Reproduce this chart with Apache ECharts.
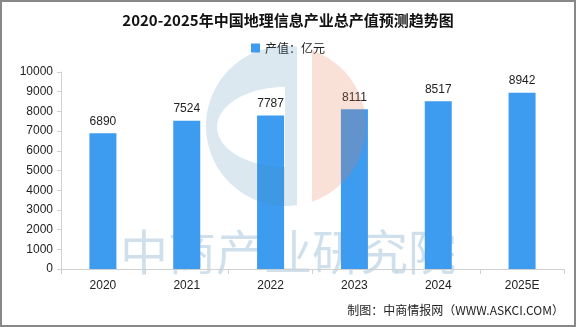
<!DOCTYPE html>
<html>
<head>
<meta charset="utf-8">
<script src="https://cdn.jsdelivr.net/npm/echarts@6/dist/echarts.min.js"></script>
<style>
html,body{margin:0;padding:0;background:#fff;}
#main{width:576px;height:327px;}
</style>
</head>
<body>
<div id="main"></div>
<script>
var titleText = '2020-2025年中国地理信息产业总产值预测趋势图';
var seriesName = '产值：亿元';
var categories = ['2020', '2021', '2022', '2023', '2024', '2025E'];
var values = [6890, 7524, 7787, 8111, 8517, 8942];
var sourceText = '制图：中商情报网（WWW.ASKCI.COM）';
var watermarkText = '中商产业研究院';

// decorative logo geometry (watermark)
var cx = 286, cy = 126, R = 80;
function circleArc(x0, fromDeg, toDeg, steps) {
  var pts = [];
  for (var i = 0; i <= steps; i++) {
    var a = (fromDeg + (toDeg - fromDeg) * i / steps) * Math.PI / 180;
    pts.push([cx + R * Math.cos(a), cy + R * Math.sin(a)]);
  }
  return pts;
}
function angAtX(x, top) {
  var dy = Math.sqrt(R * R - (x - cx) * (x - cx));
  return Math.atan2(top ? -dy : dy, x - cx) * 180 / Math.PI;
}
var ex = 285, ey = 127, erx = 68, ery = 40;
var cPts = [];
var aTop = angAtX(ex, true), aBot = angAtX(ex, false);
var aTopPos = aTop + 360;
cPts = cPts.concat(circleArc(ex, aTopPos, aBot, 60));
cPts.push([ex, ey + ery]);
for (var i = 0; i <= 40; i++) {
  var t = (90 + 180 * i / 40) * Math.PI / 180;
  cPts.push([ex + erx * Math.cos(t), ey + ery * Math.sin(t)]);
}
var sx2 = 297;
var stemPts = [];
stemPts = stemPts.concat(circleArc(0, angAtX(ex, true), angAtX(sx2, true), 4));
stemPts = stemPts.concat(circleArc(0, angAtX(sx2, false), angAtX(ex, false), 4));
var ox = 312;
var oPts = circleArc(0, angAtX(ox, true), angAtX(ox, false), 60);

var chart = echarts.init(document.getElementById('main'));
var baseFont = '"Liberation Sans","Noto Sans CJK SC",sans-serif';
chart.setOption({
  animation: false,
  backgroundColor: '#fff',
  title: {
    text: titleText,
    left: 'center',
    top: 8,
    textStyle: {fontSize: 15, fontWeight: 'bold', color: '#111', fontFamily: '"Noto Sans CJK SC",sans-serif'}
  },
  legend: {
    top: 37,
    left: 'center',
    itemWidth: 9,
    itemHeight: 9,
    itemGap: 10,
    icon: 'rect',
    textStyle: {fontSize: 12, color: '#222', fontFamily: '"Noto Sans CJK SC",sans-serif'},
    data: [seriesName]
  },
  grid: {left: 61, right: 12, top: 72, bottom: 58, containLabel: false},
  xAxis: {
    type: 'category',
    data: categories,
    axisLine: {lineStyle: {color: '#d0d0d0'}},
    axisTick: {show: true, length: 5, lineStyle: {color: '#d0d0d0'}},
    axisLabel: {color: '#222', fontSize: 12, margin: 11, fontFamily: baseFont}
  },
  yAxis: {
    type: 'value',
    min: 0,
    max: 10000,
    interval: 1000,
    axisLine: {show: true, lineStyle: {color: '#d0d0d0'}},
    axisTick: {show: true, length: 4, lineStyle: {color: '#d0d0d0'}},
    splitLine: {show: false},
    axisLabel: {color: '#222', fontSize: 12, margin: 8, fontFamily: baseFont,
      formatter: function (v) { return String(v); }}
  },
  series: [{
    name: seriesName,
    type: 'bar',
    data: values,
    barWidth: 27,
    itemStyle: {color: '#3d9bf0'},
    z: 2,
    label: {
      show: true,
      position: 'top',
      distance: 6,
      color: '#222',
      fontSize: 12,
      fontFamily: baseFont
    }
  }],
  graphic: [
    {
      type: 'text',
      left: 'center',
      top: 228,
      z: 0,
      silent: true,
      style: {
        text: watermarkText,
        fontSize: 48,
        fontFamily: '"Noto Sans CJK SC",sans-serif',
        fill: 'rgba(56,124,176,0.24)'
      }
    },
    {type: 'polygon', z: 100, silent: true, shape: {points: cPts}, style: {fill: 'rgba(76,140,180,0.2)'}},
    {type: 'polygon', z: 100, silent: true, shape: {points: stemPts}, style: {fill: 'rgba(76,140,180,0.2)'}},
    {type: 'polygon', z: 100, silent: true, shape: {points: oPts}, style: {fill: 'rgba(232,120,76,0.22)'}},
    {
      type: 'text',
      right: 12,
      top: 304,
      z: 100,
      silent: true,
      style: {text: sourceText, fontSize: 12, fill: '#222', fontFamily: '"Noto Sans CJK SC",sans-serif'}
    },
    {
      type: 'rect',
      z: 200,
      silent: true,
      shape: {x: 1, y: 1, width: 574, height: 325},
      style: {fill: 'none', stroke: '#888', lineWidth: 2}
    }
  ]
});
</script>
</body>
</html>
